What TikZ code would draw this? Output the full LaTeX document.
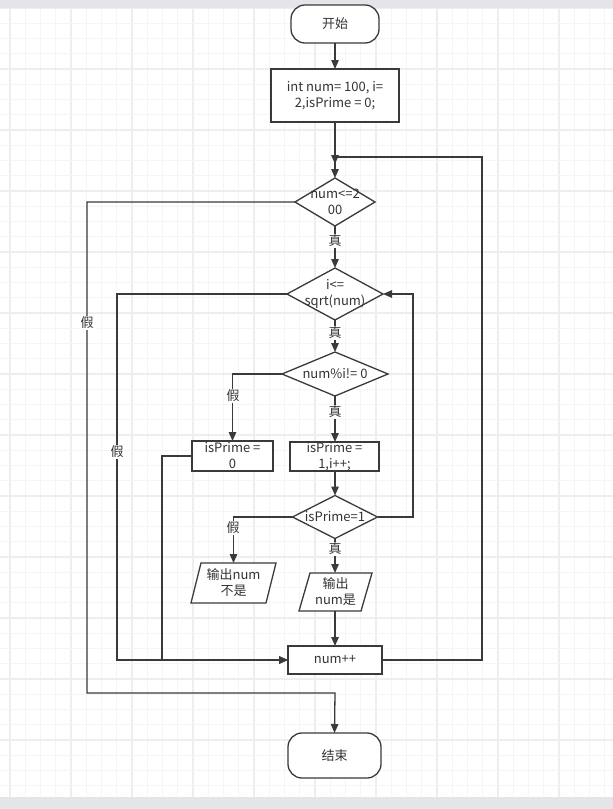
\documentclass[tikz,border=0pt]{standalone}
\usepackage{fontspec}
\setmainfont{Noto Sans CJK SC}
\usetikzlibrary{shapes.geometric,arrows.meta,calc}
\definecolor{ln}{HTML}{3A3A3A}
\definecolor{tx}{HTML}{333333}
\definecolor{gmin}{HTML}{F5F5F5}
\definecolor{gmaj}{HTML}{EEEEEE}
\definecolor{band}{HTML}{E4E5E8}
\begin{document}
\begin{tikzpicture}[x=1pt,y=-1pt,
  base/.style={draw=ln, line width=1.3pt, fill=white, inner sep=0pt, outer sep=0pt},
  txt/.style={label={[align=center, inner sep=0pt, font=\fontsize{13}{16}\selectfont, text=tx]center:#1}},
  term/.style={base, rectangle, rounded corners=14pt},
  proc/.style={base, rectangle},
  dec/.style={base, diamond},
  io/.style={rectangle, inner sep=0pt, outer sep=0pt},
  conn/.style={draw=ln, line width=1.3pt, -{Triangle[length=9pt,width=7.5pt]}},
  wire/.style={draw=ln, line width=1.3pt},
  elab/.style={fill=white, inner sep=1pt, font=\fontsize{13}{14}\selectfont, text=tx},
]
\useasboundingbox (0,0) rectangle (613,809);
\fill[white] (0,0) rectangle (613,809);
% grid
\foreach \i in {0,...,39} {
  \pgfmathsetmacro\xx{10+15.25*\i}
  \pgfmathtruncatemacro\mm{mod(\i,4)}
  \ifnum\mm=0 \draw[gmaj, line width=1.2pt] (\xx,8) -- (\xx,797);
  \else \draw[gmin, line width=1pt] (\xx,8) -- (\xx,797); \fi
}
\foreach \j in {0,...,51} {
  \pgfmathsetmacro\yy{8+15.25*\j}
  \pgfmathtruncatemacro\mm{mod(\j,4)}
  \ifnum\mm=0 \draw[gmaj, line width=1.2pt] (0,\yy) -- (613,\yy);
  \else \draw[gmin, line width=1pt] (0,\yy) -- (613,\yy); \fi
}
\fill[band] (0,0) rectangle (613,8);
\fill[band] (0,797) rectangle (613,809);

% parallelogram bodies (drawn before their text labels)
\node[io, minimum width=85pt, minimum height=40pt] (o0) at (233.5,583) {};
\node[io, minimum width=73pt, minimum height=38pt] (o1) at (335.5,592) {};
\filldraw[base, fill=white] ($(o0.north west)+(10,0)$) -- (o0.north east) -- ($(o0.south east)-(10,0)$) -- (o0.south west) -- cycle;
\filldraw[base, fill=white] ($(o1.north west)+(11,0)$) -- (o1.north east) -- ($(o1.south east)-(11,0)$) -- (o1.south west) -- cycle;
\node[io, txt={输出num\\不是}] (o0t) at (o0) {};
\node[io, txt={输出\\num是}] (o1t) at (o1) {};

% nodes
\node[term, minimum width=88pt, minimum height=38pt, txt={开始}] (start) at (335,24) {};
\node[proc, minimum width=128pt, minimum height=53pt, txt={int num= 100, i=\\2,isPrime = 0;}] (init) at (335,95.5) {};
\node[dec, minimum width=80pt, minimum height=48pt, txt={num<=2\\00}] (d1) at (335,202) {};
\node[dec, minimum width=96pt, minimum height=52pt, txt={i<=\\sqrt(num)}] (d2) at (335,294) {};
\node[dec, minimum width=106pt, minimum height=44pt, txt={num\%i!= 0}] (d3) at (335,374) {};
\node[proc, minimum width=81pt, minimum height=30pt, txt={isPrime =\\0}] (p0) at (232.5,456) {};
\node[proc, minimum width=89pt, minimum height=29pt, txt={isPrime =\\1,i++;}] (p1) at (334.5,456.5) {};
\node[dec, minimum width=85pt, minimum height=43pt, txt={isPrime=1}] (d4) at (335,517) {};
\node[proc, minimum width=94pt, minimum height=28pt, txt={num++}] (inc) at (335,660) {};
\node[term, minimum width=93pt, minimum height=45pt, txt={结束}] (stop) at (334.5,755.5) {};

\coordinate (jA) at (335,164);

% connectors
\draw[conn] (start.south) -- (init.north);
\draw[conn] (init.south) -- (jA);
\draw[conn] (inc.east) -- (482,660) -- (482,157) -- (335,157) -- (d1.north);
\draw[conn] (d1.south) -- (d2.north);
\draw[conn] (d1.west) -- (87,202) -- (87,693) -- (335,693) -- (stop.north);
\draw[conn] (d2.south) -- (d3.north);
\draw[conn] (d2.west) -- (117,294) -- (117,660) -- (inc.west);
\draw[conn] (d3.south) -- (p1.north -| d3.south);
\draw[conn] (d3.west) -- (p0.north |- d3.west) -- (p0.north);
\draw[conn] (p0.west) -- (162,456) -- (162,660) -- (inc.west);
\draw[conn] (p1.south -| d4.north) -- (d4.north);
\draw[conn] (d4.east) -- (413,517) -- (413,294) -- (d2.east);
\draw[conn] (d4.west) -- (o0.north |- d4.west) -- (o0.north);
\draw[conn] (d4.south) -- (o1.north -| d4.south);
\draw[conn] (o1.south -| inc.north) -- (inc.north);

% edge labels
\node[elab] (t1) at (335,241) {真};
\node[elab] (t2) at (335,333) {真};
\node[elab] (t3) at (335,412) {真};
\node[elab] (t4) at (335,549) {真};
\node[elab] (f1) at (87,323) {假};
\node[elab] (f2) at (117,452) {假};
\node[elab] (f3) at (233,396) {假};
\node[elab] (f4) at (233,528) {假};
\end{tikzpicture}
\end{document}
